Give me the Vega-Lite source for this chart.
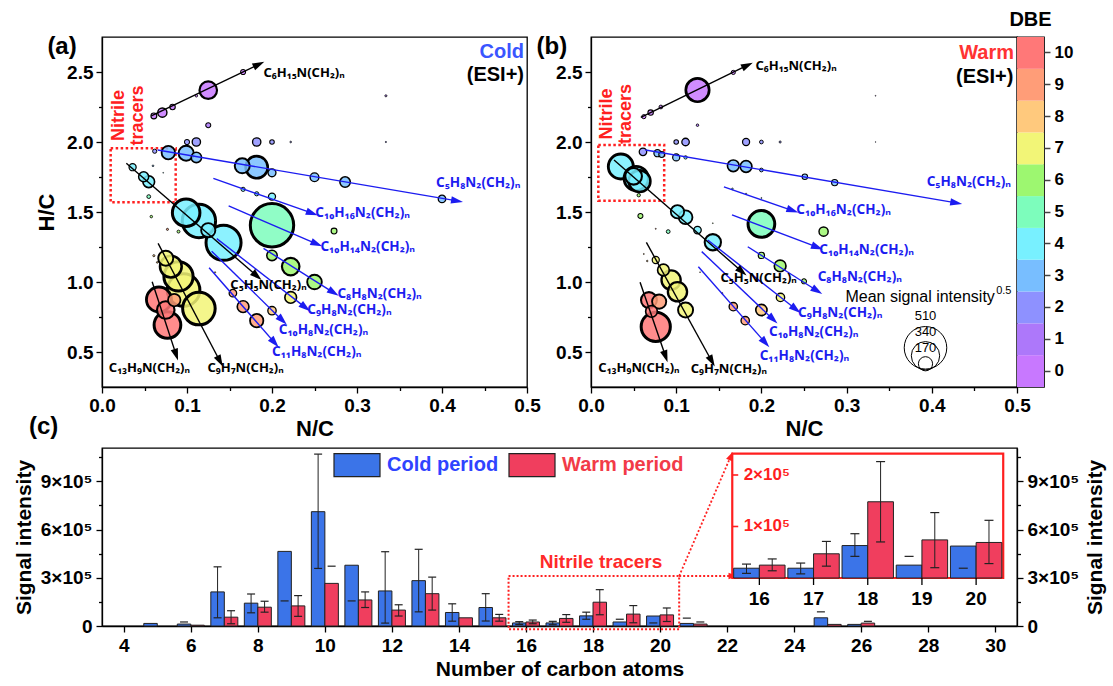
{
  "$schema": "https://vega.github.io/schema/vega-lite/v6.json",
  "background": "white",
  "padding": {"left": 12, "top": 9, "right": 2, "bottom": 2},
  "config": {
    "font": "Liberation Sans",
    "view": {"stroke": "black", "strokeWidth": 1.3},
    "axis": {"labelFont": "Liberation Sans", "titleFont": "Liberation Sans", "labelFontWeight": "bold", "titleFontWeight": "bold", "labelColor": "black", "titleColor": "black", "domainColor": "black", "tickColor": "black", "domainWidth": 1.3, "tickWidth": 1.3, "grid": false},
    "text": {"font": "Liberation Sans"},
    "title": {"font": "Liberation Sans"},
    "legend": {"labelFont": "Liberation Sans"}
  },
  "datasets": {
    "bubbles": [
      {"panel":"a","nc":0.061,"hc":2.186,"dbe":0,"v":70},
      {"panel":"a","nc":0.071,"hc":2.21,"dbe":0,"v":110},
      {"panel":"a","nc":0.083,"hc":2.25,"dbe":0,"v":65},
      {"panel":"a","nc":0.111,"hc":2.33,"dbe":0,"v":30},
      {"panel":"a","nc":0.125,"hc":2.37,"dbe":0,"v":210},
      {"panel":"a","nc":0.166,"hc":2.5,"dbe":0,"v":60},
      {"panel":"a","nc":0.334,"hc":2.33,"dbe":1,"v":25},
      {"panel":"a","nc":0.125,"hc":2.12,"dbe":1,"v":60},
      {"panel":"a","nc":0.334,"hc":2.0,"dbe":2,"v":15},
      {"panel":"a","nc":0.1,"hc":2.0,"dbe":2,"v":60},
      {"panel":"a","nc":0.111,"hc":2.0,"dbe":2,"v":100},
      {"panel":"a","nc":0.182,"hc":2.0,"dbe":2,"v":100},
      {"panel":"a","nc":0.2,"hc":2.0,"dbe":2,"v":55},
      {"panel":"a","nc":0.222,"hc":2.0,"dbe":2,"v":20},
      {"panel":"a","nc":0.062,"hc":1.934,"dbe":2,"v":50},
      {"panel":"a","nc":0.078,"hc":1.924,"dbe":3,"v":160},
      {"panel":"a","nc":0.099,"hc":1.92,"dbe":3,"v":180},
      {"panel":"a","nc":0.111,"hc":1.89,"dbe":3,"v":125},
      {"panel":"a","nc":0.165,"hc":1.83,"dbe":3,"v":180},
      {"panel":"a","nc":0.182,"hc":1.82,"dbe":3,"v":265},
      {"panel":"a","nc":0.2,"hc":1.78,"dbe":3,"v":95},
      {"panel":"a","nc":0.25,"hc":1.748,"dbe":3,"v":105},
      {"panel":"a","nc":0.286,"hc":1.714,"dbe":3,"v":125},
      {"panel":"a","nc":0.4,"hc":1.593,"dbe":3,"v":90},
      {"panel":"a","nc":0.06,"hc":1.83,"dbe":3,"v":20},
      {"panel":"a","nc":0.036,"hc":1.82,"dbe":4,"v":85},
      {"panel":"a","nc":0.049,"hc":1.752,"dbe":4,"v":120},
      {"panel":"a","nc":0.055,"hc":1.716,"dbe":4,"v":140},
      {"panel":"a","nc":0.072,"hc":1.78,"dbe":4,"v":10},
      {"panel":"a","nc":0.099,"hc":1.495,"dbe":4,"v":330},
      {"panel":"a","nc":0.114,"hc":1.436,"dbe":4,"v":400},
      {"panel":"a","nc":0.125,"hc":1.37,"dbe":4,"v":170},
      {"panel":"a","nc":0.143,"hc":1.28,"dbe":4,"v":420},
      {"panel":"a","nc":0.166,"hc":1.662,"dbe":4,"v":50},
      {"panel":"a","nc":0.182,"hc":1.63,"dbe":4,"v":50},
      {"panel":"a","nc":0.2,"hc":1.61,"dbe":4,"v":85},
      {"panel":"a","nc":0.055,"hc":1.61,"dbe":5,"v":45},
      {"panel":"a","nc":0.2,"hc":1.405,"dbe":5,"v":520},
      {"panel":"a","nc":0.058,"hc":1.467,"dbe":6,"v":30},
      {"panel":"a","nc":0.09,"hc":1.36,"dbe":6,"v":35},
      {"panel":"a","nc":0.133,"hc":1.44,"dbe":6,"v":15},
      {"panel":"a","nc":0.273,"hc":1.364,"dbe":6,"v":70},
      {"panel":"a","nc":0.2,"hc":1.19,"dbe":6,"v":125},
      {"panel":"a","nc":0.222,"hc":1.11,"dbe":6,"v":210},
      {"panel":"a","nc":0.25,"hc":1.0,"dbe":6,"v":175},
      {"panel":"a","nc":0.222,"hc":0.89,"dbe":7,"v":140},
      {"panel":"a","nc":0.075,"hc":1.17,"dbe":7,"v":180},
      {"panel":"a","nc":0.081,"hc":1.11,"dbe":7,"v":260},
      {"panel":"a","nc":0.09,"hc":1.04,"dbe":7,"v":350},
      {"panel":"a","nc":0.096,"hc":0.943,"dbe":7,"v":390},
      {"panel":"a","nc":0.114,"hc":0.81,"dbe":7,"v":390},
      {"panel":"a","nc":0.181,"hc":1.09,"dbe":7,"v":12},
      {"panel":"a","nc":0.061,"hc":1.188,"dbe":8,"v":25},
      {"panel":"a","nc":0.065,"hc":1.14,"dbe":8,"v":20},
      {"panel":"a","nc":0.133,"hc":1.069,"dbe":8,"v":15},
      {"panel":"a","nc":0.2,"hc":0.795,"dbe":8,"v":100},
      {"panel":"a","nc":0.077,"hc":1.376,"dbe":9,"v":25},
      {"panel":"a","nc":0.154,"hc":0.92,"dbe":9,"v":90},
      {"panel":"a","nc":0.166,"hc":0.824,"dbe":9,"v":140},
      {"panel":"a","nc":0.182,"hc":0.724,"dbe":9,"v":160},
      {"panel":"a","nc":0.085,"hc":0.871,"dbe":9,"v":150},
      {"panel":"a","nc":0.067,"hc":0.875,"dbe":10,"v":300},
      {"panel":"a","nc":0.075,"hc":0.8,"dbe":10,"v":210},
      {"panel":"a","nc":0.077,"hc":0.693,"dbe":10,"v":320},
      {"panel":"b","nc":0.062,"hc":2.181,"dbe":0,"v":50},
      {"panel":"b","nc":0.07,"hc":2.21,"dbe":0,"v":65},
      {"panel":"b","nc":0.082,"hc":2.25,"dbe":0,"v":45},
      {"panel":"b","nc":0.125,"hc":2.371,"dbe":0,"v":280},
      {"panel":"b","nc":0.167,"hc":2.497,"dbe":0,"v":50},
      {"panel":"b","nc":0.125,"hc":2.12,"dbe":1,"v":30},
      {"panel":"b","nc":0.334,"hc":2.33,"dbe":1,"v":10},
      {"panel":"b","nc":0.334,"hc":2.0,"dbe":2,"v":8},
      {"panel":"b","nc":0.1,"hc":2.0,"dbe":2,"v":55},
      {"panel":"b","nc":0.111,"hc":2.0,"dbe":2,"v":90},
      {"panel":"b","nc":0.182,"hc":2.0,"dbe":2,"v":85},
      {"panel":"b","nc":0.2,"hc":2.0,"dbe":2,"v":45},
      {"panel":"b","nc":0.222,"hc":2.0,"dbe":2,"v":25},
      {"panel":"b","nc":0.061,"hc":1.93,"dbe":2,"v":90},
      {"panel":"b","nc":0.078,"hc":1.92,"dbe":3,"v":85},
      {"panel":"b","nc":0.083,"hc":1.91,"dbe":3,"v":70},
      {"panel":"b","nc":0.1,"hc":1.89,"dbe":3,"v":85},
      {"panel":"b","nc":0.111,"hc":1.89,"dbe":4,"v":40},
      {"panel":"b","nc":0.167,"hc":1.83,"dbe":3,"v":140},
      {"panel":"b","nc":0.182,"hc":1.825,"dbe":3,"v":140},
      {"panel":"b","nc":0.2,"hc":1.8,"dbe":3,"v":45},
      {"panel":"b","nc":0.251,"hc":1.752,"dbe":3,"v":65},
      {"panel":"b","nc":0.286,"hc":1.71,"dbe":3,"v":75},
      {"panel":"b","nc":0.035,"hc":1.825,"dbe":4,"v":300},
      {"panel":"b","nc":0.05,"hc":1.755,"dbe":4,"v":200},
      {"panel":"b","nc":0.053,"hc":1.74,"dbe":4,"v":290},
      {"panel":"b","nc":0.057,"hc":1.72,"dbe":4,"v":260},
      {"panel":"b","nc":0.056,"hc":1.62,"dbe":6,"v":40},
      {"panel":"b","nc":0.058,"hc":1.472,"dbe":6,"v":60},
      {"panel":"b","nc":0.0906,"hc":1.36,"dbe":5,"v":45},
      {"panel":"b","nc":0.076,"hc":1.38,"dbe":9,"v":12},
      {"panel":"b","nc":0.1015,"hc":1.502,"dbe":4,"v":160},
      {"panel":"b","nc":0.111,"hc":1.462,"dbe":4,"v":165},
      {"panel":"b","nc":0.125,"hc":1.371,"dbe":4,"v":90},
      {"panel":"b","nc":0.143,"hc":1.284,"dbe":4,"v":195},
      {"panel":"b","nc":0.143,"hc":1.42,"dbe":6,"v":10},
      {"panel":"b","nc":0.166,"hc":1.665,"dbe":4,"v":20},
      {"panel":"b","nc":0.182,"hc":1.63,"dbe":4,"v":15},
      {"panel":"b","nc":0.2,"hc":1.6,"dbe":4,"v":12},
      {"panel":"b","nc":0.2,"hc":1.415,"dbe":5,"v":320},
      {"panel":"b","nc":0.273,"hc":1.36,"dbe":6,"v":110},
      {"panel":"b","nc":0.2,"hc":1.19,"dbe":6,"v":75},
      {"panel":"b","nc":0.222,"hc":1.115,"dbe":6,"v":140},
      {"panel":"b","nc":0.25,"hc":1.005,"dbe":6,"v":60},
      {"panel":"b","nc":0.2224,"hc":0.89,"dbe":7,"v":100},
      {"panel":"b","nc":0.076,"hc":1.157,"dbe":7,"v":85},
      {"panel":"b","nc":0.085,"hc":1.086,"dbe":7,"v":140},
      {"panel":"b","nc":0.094,"hc":1.014,"dbe":7,"v":230},
      {"panel":"b","nc":0.1015,"hc":0.93,"dbe":7,"v":230},
      {"panel":"b","nc":0.111,"hc":0.8,"dbe":7,"v":180},
      {"panel":"b","nc":0.066,"hc":1.15,"dbe":8,"v":18},
      {"panel":"b","nc":0.062,"hc":1.2,"dbe":8,"v":12},
      {"panel":"b","nc":0.128,"hc":1.07,"dbe":8,"v":10},
      {"panel":"b","nc":0.2,"hc":0.8,"dbe":8,"v":135},
      {"panel":"b","nc":0.154,"hc":0.92,"dbe":9,"v":15},
      {"panel":"b","nc":0.167,"hc":0.824,"dbe":9,"v":100},
      {"panel":"b","nc":0.181,"hc":0.724,"dbe":9,"v":100},
      {"panel":"b","nc":0.08,"hc":0.86,"dbe":9,"v":170},
      {"panel":"b","nc":0.068,"hc":0.871,"dbe":10,"v":190},
      {"panel":"b","nc":0.071,"hc":0.79,"dbe":10,"v":140},
      {"panel":"b","nc":0.076,"hc":0.68,"dbe":10,"v":350}
    ],
    "arrows": [
      {"panel":"a","grp":"N1","f":"C₆H₁₅N(CH₂)ₙ","x1":0.058,"y1":2.186,"x2":0.183,"y2":2.55,"lx":0.19,"ly":2.495},
      {"panel":"a","grp":"N2","f":"C₅H₈N₂(CH₂)ₙ","x1":0.0655,"y1":1.943,"x2":0.416,"y2":1.581,"lx":0.393,"ly":1.705},
      {"panel":"a","grp":"N2","f":"C₁₀H₁₆N₂(CH₂)ₙ","x1":0.131,"y1":1.74,"x2":0.2455,"y2":1.495,"lx":0.251,"ly":1.49},
      {"panel":"a","grp":"N2","f":"C₁₀H₁₄N₂(CH₂)ₙ","x1":0.149,"y1":1.543,"x2":0.251,"y2":1.276,"lx":0.257,"ly":1.248},
      {"panel":"a","grp":"N1","f":"C₅H₅N(CH₂)ₙ","x1":0.0286,"y1":1.848,"x2":0.181,"y2":1.05,"lx":0.151,"ly":0.979},
      {"panel":"a","grp":"N2","f":"C₈H₈N₂(CH₂)ₙ","x1":0.19,"y1":1.24,"x2":0.271,"y2":0.93,"lx":0.277,"ly":0.915},
      {"panel":"a","grp":"N2","f":"C₉H₈N₂(CH₂)ₙ","x1":0.135,"y1":1.31,"x2":0.238,"y2":0.824,"lx":0.2415,"ly":0.8},
      {"panel":"a","grp":"N2","f":"C₁₀H₈N₂(CH₂)ₙ","x1":0.129,"y1":1.22,"x2":0.211,"y2":0.733,"lx":0.208,"ly":0.657},
      {"panel":"a","grp":"N2","f":"C₁₁H₈N₂(CH₂)ₙ","x1":0.126,"y1":1.102,"x2":0.202,"y2":0.574,"lx":0.2,"ly":0.502},
      {"panel":"a","grp":"N1","f":"C₉H₇N(CH₂)ₙ","x1":0.066,"y1":1.276,"x2":0.138,"y2":0.443,"lx":0.124,"ly":0.388},
      {"panel":"a","grp":"N1","f":"C₁₃H₉N(CH₂)ₙ","x1":0.059,"y1":1.002,"x2":0.0867,"y2":0.49,"lx":0.008,"ly":0.388},
      {"panel":"b","grp":"N1","f":"C₆H₁₅N(CH₂)ₙ","x1":0.0585,"y1":2.176,"x2":0.182,"y2":2.543,"lx":0.193,"ly":2.54},
      {"panel":"b","grp":"N2","f":"C₅H₈N₂(CH₂)ₙ","x1":0.064,"y1":1.943,"x2":0.427,"y2":1.567,"lx":0.394,"ly":1.717},
      {"panel":"b","grp":"N2","f":"C₁₀H₁₆N₂(CH₂)ₙ","x1":0.156,"y1":1.68,"x2":0.235,"y2":1.514,"lx":0.241,"ly":1.514},
      {"panel":"b","grp":"N2","f":"C₁₀H₁₄N₂(CH₂)ₙ","x1":0.1655,"y1":1.479,"x2":0.264,"y2":1.252,"lx":0.268,"ly":1.229},
      {"panel":"b","grp":"N1","f":"C₅H₅N(CH₂)ₙ","x1":0.027,"y1":1.871,"x2":0.176,"y2":1.081,"lx":0.152,"ly":1.026},
      {"panel":"b","grp":"N2","f":"C₈H₈N₂(CH₂)ₙ","x1":0.184,"y1":1.252,"x2":0.264,"y2":0.943,"lx":0.266,"ly":1.038},
      {"panel":"b","grp":"N2","f":"C₉H₈N₂(CH₂)ₙ","x1":0.137,"y1":1.3,"x2":0.239,"y2":0.812,"lx":0.243,"ly":0.776},
      {"panel":"b","grp":"N2","f":"C₁₀H₈N₂(CH₂)ₙ","x1":0.13,"y1":1.217,"x2":0.2125,"y2":0.74,"lx":0.209,"ly":0.645},
      {"panel":"b","grp":"N2","f":"C₁₁H₈N₂(CH₂)ₙ","x1":0.126,"y1":1.109,"x2":0.2035,"y2":0.574,"lx":0.198,"ly":0.471},
      {"panel":"b","grp":"N1","f":"C₉H₇N(CH₂)ₙ","x1":0.065,"y1":1.283,"x2":0.141,"y2":0.443,"lx":0.117,"ly":0.376},
      {"panel":"b","grp":"N1","f":"C₁₃H₉N(CH₂)ₙ","x1":0.0576,"y1":0.998,"x2":0.087,"y2":0.478,"lx":0.0086,"ly":0.388}
    ],
    "bars": [
      {"n":5,"period":"Cold period","value":16000},
      {"n":6,"period":"Cold period","value":12000,"hi":25000},
      {"n":7,"period":"Cold period","value":212000,"lo":51000,"hi":368000},
      {"n":8,"period":"Cold period","value":142000,"lo":82000,"hi":199000},
      {"n":9,"period":"Cold period","value":464000,"lo":156000},
      {"n":10,"period":"Cold period","value":711000,"lo":358000,"hi":1069000},
      {"n":11,"period":"Cold period","value":378000,"lo":156000},
      {"n":12,"period":"Cold period","value":218000,"lo":18000,"hi":462000},
      {"n":13,"period":"Cold period","value":282000,"lo":88000,"hi":477000},
      {"n":14,"period":"Cold period","value":84000,"lo":30000,"hi":138000},
      {"n":15,"period":"Cold period","value":115000,"lo":31000,"hi":201000},
      {"n":16,"period":"Cold period","value":19000,"lo":9000,"hi":27000},
      {"n":17,"period":"Cold period","value":19000,"lo":8000,"hi":29000},
      {"n":18,"period":"Cold period","value":63000,"lo":42000,"hi":86000},
      {"n":19,"period":"Cold period","value":25000,"hi":42000},
      {"n":20,"period":"Cold period","value":62000,"lo":19000},
      {"n":21,"period":"Cold period","value":16000,"hi":49000},
      {"n":25,"period":"Cold period","value":51000,"hi":88000},
      {"n":26,"period":"Cold period","value":10000},
      {"n":6,"period":"Warm period","value":5000},
      {"n":7,"period":"Warm period","value":55000,"lo":14000,"hi":95000},
      {"n":8,"period":"Warm period","value":117000,"lo":86000,"hi":154000},
      {"n":9,"period":"Warm period","value":125000,"lo":60000,"hi":189000},
      {"n":10,"period":"Warm period","value":265000,"hi":372000},
      {"n":11,"period":"Warm period","value":162000,"lo":115000,"hi":212000},
      {"n":12,"period":"Warm period","value":99000,"lo":62000,"hi":132000},
      {"n":13,"period":"Warm period","value":201000,"lo":99000,"hi":304000},
      {"n":14,"period":"Warm period","value":51000},
      {"n":15,"period":"Warm period","value":51000,"lo":30000,"hi":72000},
      {"n":16,"period":"Warm period","value":25000,"lo":14000,"hi":37000},
      {"n":17,"period":"Warm period","value":47000,"lo":23000,"hi":71000},
      {"n":18,"period":"Warm period","value":148000,"lo":70000,"hi":226000},
      {"n":19,"period":"Warm period","value":74000,"lo":20000,"hi":127000},
      {"n":20,"period":"Warm period","value":69000,"lo":28000,"hi":112000},
      {"n":21,"period":"Warm period","value":12000,"hi":25000},
      {"n":25,"period":"Warm period","value":10000},
      {"n":26,"period":"Warm period","value":18000,"hi":29000}
    ],
    "connectors": [
      {"x1":20.57,"y1":311000,"x2":22.1,"y2":1051000},
      {"x1":20.57,"y1":311000,"x2":22.14,"y2":311000}
    ],
    "dbe": [{"dbe":0},{"dbe":1},{"dbe":2},{"dbe":3},{"dbe":4},{"dbe":5},{"dbe":6},{"dbe":7},{"dbe":8},{"dbe":9},{"dbe":10}]
  },
  "resolve": {"scale": {"color": "independent"}, "legend": {"color": "independent"}},
  "vconcat": [
    {
      "hconcat": [
        {
          "width": 425, "height": 350,
          "layer": [
            {
              "data": {"values": [{}]},
              "mark": {"type": "rect", "filled": false, "stroke": "#ff2020", "strokeWidth": 2.5, "strokeDash": [2.5, 2.5]},
              "encoding": {
                "x": {"datum": 0.0102, "type": "quantitative", "scale": {"domain": [0, 0.5], "nice": false, "zero": false},
                  "axis": {"title": "N/C", "values": [0,0.05,0.1,0.15,0.2,0.25,0.3,0.35,0.4,0.45,0.5], "labelExpr": "round(datum.value*20) % 2 === 0 ? format(datum.value, '.1f') : ''", "tickSize": {"condition": {"test": "round(datum.value*20) % 2 === 0", "value": 6}, "value": 3.5}, "labelFontSize": 19, "titleFontSize": 22, "labelPadding": 3, "titlePadding": 3, "labelOverlap": false, "labelFlush": false}},
                "x2": {"datum": 0.0867},
                "y": {"datum": 1.955, "type": "quantitative", "scale": {"domain": [0.25, 2.75], "nice": false, "zero": false},
                  "axis": {"title": "H/C", "values": [0.5,0.75,1,1.25,1.5,1.75,2,2.25,2.5], "labelExpr": "round(datum.value*4) % 2 === 0 ? format(datum.value, '.1f') : ''", "tickSize": {"condition": {"test": "round(datum.value*4) % 2 === 0", "value": 6}, "value": 3.5}, "labelFontSize": 19, "titleFontSize": 22, "labelPadding": 3, "titlePadding": 8, "labelOverlap": false, "labelFlush": false}},
                "y2": {"datum": 1.569}
              }
            },
            {
              "data": {"name": "bubbles"},
              "transform": [{"filter": "datum.panel === 'a'"}],
              "mark": {"type": "circle", "stroke": "black", "opacity": 1, "fillOpacity": 0.85},
              "encoding": {
                "x": {"field": "nc", "type": "quantitative"},
                "y": {"field": "hc", "type": "quantitative"},
                "size": {"field": "v", "type": "quantitative", "scale": {"type": "pow", "exponent": 2, "domain": [0, 510], "range": [0, 1810]}, "legend": null},
                "fill": {"field": "dbe", "type": "ordinal", "scale": {"domain": [0,1,2,3,4,5,6,7,8,9,10], "range": ["#C878FF","#AD78FA","#8E91FF","#78BEFF","#78F0FF","#7DFDBC","#9DF770","#F2F577","#FFC97D","#FF9D78","#FF7878"]}, "legend": null},
                "strokeWidth": {"field": "v", "type": "quantitative", "scale": {"domain": [0, 320], "range": [0.6, 3], "clamp": true}, "legend": null},
                "order": {"field": "v", "type": "quantitative", "sort": "descending"}
              }
            },
            {
              "data": {"name": "arrows"},
              "transform": [{"filter": "datum.panel === 'a'"}],
              "mark": {"type": "rule", "strokeWidth": 1.4},
              "encoding": {
                "x": {"field": "x1", "type": "quantitative"}, "y": {"field": "y1", "type": "quantitative"},
                "x2": {"field": "x2"}, "y2": {"field": "y2"},
                "color": {"field": "grp", "type": "nominal", "scale": {"domain": ["N1", "N2"], "range": ["black", "#1c1cf0"]}, "legend": null}
              }
            },
            {
              "data": {"name": "arrows"},
              "transform": [{"filter": "datum.panel === 'a'"}, {"calculate": "atan2((datum.x2-datum.x1)*850, (datum.y2-datum.y1)*140)*180/PI", "as": "rot"}],
              "mark": {"type": "point", "shape": "M0,-1L0.5,0.6L-0.5,0.6Z", "filled": true, "size": 225, "opacity": 1, "strokeWidth": 0},
              "encoding": {
                "x": {"field": "x2", "type": "quantitative"}, "y": {"field": "y2", "type": "quantitative"},
                "angle": {"field": "rot", "type": "quantitative", "scale": null},
                "color": {"field": "grp", "type": "nominal", "legend": null}
              }
            },
            {
              "data": {"name": "arrows"},
              "transform": [{"filter": "datum.panel === 'a' && datum.grp === 'N1'"}],
              "mark": {"type": "text", "align": "left", "baseline": "middle", "font": "Noto Sans", "fontSize": 13, "fontWeight": "bold", "color": "black"},
              "encoding": {"x": {"field": "lx", "type": "quantitative"}, "y": {"field": "ly", "type": "quantitative"}, "text": {"field": "f"}}
            },
            {
              "data": {"name": "arrows"},
              "transform": [{"filter": "datum.panel === 'a' && datum.grp === 'N2'"}],
              "mark": {"type": "text", "align": "left", "baseline": "middle", "font": "Noto Sans", "fontSize": 13.5, "fontWeight": "bold", "color": "#1c1cf0"},
              "encoding": {"x": {"field": "lx", "type": "quantitative"}, "y": {"field": "ly", "type": "quantitative"}, "text": {"field": "f"}}
            },
            {
              "data": {"values": [{}]},
              "mark": {"type": "text", "text": "(a)", "fontSize": 24, "fontWeight": "bold", "align": "center", "baseline": "middle", "color": "black"},
              "encoding": {"x": {"datum": -0.047, "type": "quantitative"}, "y": {"datum": 2.68, "type": "quantitative"}}
            },
            {
              "data": {"values": [{}]},
              "mark": {"type": "text", "text": "(c)", "fontSize": 24, "fontWeight": "bold", "align": "center", "baseline": "middle", "color": "black"},
              "encoding": {"x": {"datum": -0.0687, "type": "quantitative"}, "y": {"datum": -0.036, "type": "quantitative"}}
            },
            {
              "data": {"values": [{}]},
              "mark": {"type": "text", "text": "Cold", "fontSize": 20, "fontWeight": "bold", "align": "right", "baseline": "middle", "color": "#3a55ff"},
              "encoding": {"x": {"datum": 0.4965, "type": "quantitative"}, "y": {"datum": 2.645, "type": "quantitative"}}
            },
            {
              "data": {"values": [{}]},
              "mark": {"type": "text", "text": "(ESI+)", "fontSize": 20, "fontWeight": "bold", "align": "right", "baseline": "middle", "color": "black"},
              "encoding": {"x": {"datum": 0.4965, "type": "quantitative"}, "y": {"datum": 2.479, "type": "quantitative"}}
            },
            {
              "data": {"values": [{}]},
              "mark": {"type": "text", "text": "Nitrile", "angle": 270, "fontSize": 18, "fontWeight": "bold", "align": "center", "baseline": "middle", "color": "#ff2020"},
              "encoding": {"x": {"datum": 0.02, "type": "quantitative"}, "y": {"datum": 2.19, "type": "quantitative"}}
            },
            {
              "data": {"values": [{}]},
              "mark": {"type": "text", "text": "tracers", "angle": 270, "fontSize": 18, "fontWeight": "bold", "align": "center", "baseline": "middle", "color": "#ff2020"},
              "encoding": {"x": {"datum": 0.0425, "type": "quantitative"}, "y": {"datum": 2.19, "type": "quantitative"}}
            }
          ]
        },
        {
          "hconcat": [
            {
              "width": 426, "height": 350,
              "layer": [
                {
                  "data": {"values": [{}]},
                  "mark": {"type": "rect", "filled": false, "stroke": "#ff2020", "strokeWidth": 2.5, "strokeDash": [2.5, 2.5]},
                  "encoding": {
                    "x": {"datum": 0.0086, "type": "quantitative", "scale": {"domain": [0, 0.5], "nice": false, "zero": false},
                      "axis": {"title": "N/C", "values": [0,0.05,0.1,0.15,0.2,0.25,0.3,0.35,0.4,0.45,0.5], "labelExpr": "round(datum.value*20) % 2 === 0 ? format(datum.value, '.1f') : ''", "tickSize": {"condition": {"test": "round(datum.value*20) % 2 === 0", "value": 6}, "value": 3.5}, "labelFontSize": 19, "titleFontSize": 22, "labelPadding": 3, "titlePadding": 3, "labelOverlap": false, "labelFlush": false}},
                    "x2": {"datum": 0.0859},
                    "y": {"datum": 1.979, "type": "quantitative", "scale": {"domain": [0.25, 2.75], "nice": false, "zero": false},
                      "axis": {"title": null, "values": [0.5,0.75,1,1.25,1.5,1.75,2,2.25,2.5], "labelExpr": "round(datum.value*4) % 2 === 0 ? format(datum.value, '.1f') : ''", "tickSize": {"condition": {"test": "round(datum.value*4) % 2 === 0", "value": 6}, "value": 3.5}, "labelFontSize": 19, "labelPadding": 3, "labelOverlap": false, "labelFlush": false}},
                    "y2": {"datum": 1.581}
                  }
                },
                {
                  "data": {"name": "bubbles"},
                  "transform": [{"filter": "datum.panel === 'b'"}],
                  "mark": {"type": "circle", "stroke": "black", "opacity": 1, "fillOpacity": 0.85},
                  "encoding": {
                    "x": {"field": "nc", "type": "quantitative"},
                    "y": {"field": "hc", "type": "quantitative"},
                    "size": {"field": "v", "type": "quantitative", "scale": {"type": "pow", "exponent": 2, "domain": [0, 510], "range": [0, 1810]}, "legend": null},
                    "fill": {"field": "dbe", "type": "ordinal", "scale": {"domain": [0,1,2,3,4,5,6,7,8,9,10], "range": ["#C878FF","#AD78FA","#8E91FF","#78BEFF","#78F0FF","#7DFDBC","#9DF770","#F2F577","#FFC97D","#FF9D78","#FF7878"]}, "legend": null},
                    "strokeWidth": {"field": "v", "type": "quantitative", "scale": {"domain": [0, 320], "range": [0.6, 3], "clamp": true}, "legend": null},
                    "order": {"field": "v", "type": "quantitative", "sort": "descending"}
                  }
                },
                {
                  "data": {"name": "arrows"},
                  "transform": [{"filter": "datum.panel === 'b'"}],
                  "mark": {"type": "rule", "strokeWidth": 1.4},
                  "encoding": {
                    "x": {"field": "x1", "type": "quantitative"}, "y": {"field": "y1", "type": "quantitative"},
                    "x2": {"field": "x2"}, "y2": {"field": "y2"},
                    "color": {"field": "grp", "type": "nominal", "scale": {"domain": ["N1", "N2"], "range": ["black", "#1c1cf0"]}, "legend": null}
                  }
                },
                {
                  "data": {"name": "arrows"},
                  "transform": [{"filter": "datum.panel === 'b'"}, {"calculate": "atan2((datum.x2-datum.x1)*850, (datum.y2-datum.y1)*140)*180/PI", "as": "rot"}],
                  "mark": {"type": "point", "shape": "M0,-1L0.5,0.6L-0.5,0.6Z", "filled": true, "size": 225, "opacity": 1, "strokeWidth": 0},
                  "encoding": {
                    "x": {"field": "x2", "type": "quantitative"}, "y": {"field": "y2", "type": "quantitative"},
                    "angle": {"field": "rot", "type": "quantitative", "scale": null},
                    "color": {"field": "grp", "type": "nominal", "legend": null}
                  }
                },
                {
                  "data": {"name": "arrows"},
                  "transform": [{"filter": "datum.panel === 'b' && datum.grp === 'N1'"}],
                  "mark": {"type": "text", "align": "left", "baseline": "middle", "font": "Noto Sans", "fontSize": 13, "fontWeight": "bold", "color": "black"},
                  "encoding": {"x": {"field": "lx", "type": "quantitative"}, "y": {"field": "ly", "type": "quantitative"}, "text": {"field": "f"}}
                },
                {
                  "data": {"name": "arrows"},
                  "transform": [{"filter": "datum.panel === 'b' && datum.grp === 'N2'"}],
                  "mark": {"type": "text", "align": "left", "baseline": "middle", "font": "Noto Sans", "fontSize": 13.5, "fontWeight": "bold", "color": "#1c1cf0"},
                  "encoding": {"x": {"field": "lx", "type": "quantitative"}, "y": {"field": "ly", "type": "quantitative"}, "text": {"field": "f"}}
                },
                {
                  "data": {"values": [{"v": 510, "cy": 0.53}, {"v": 340, "cy": 0.473}, {"v": 170, "cy": 0.416}]},
                  "mark": {"type": "point", "shape": "circle", "filled": false, "stroke": "black", "strokeWidth": 1, "opacity": 1},
                  "encoding": {"x": {"datum": 0.3926, "type": "quantitative"}, "y": {"field": "cy", "type": "quantitative"}, "size": {"field": "v", "type": "quantitative", "legend": null}}
                },
                {
                  "data": {"values": [{"lab": "510", "ly": 0.757}, {"lab": "340", "ly": 0.645}, {"lab": "170", "ly": 0.529}]},
                  "mark": {"type": "text", "fontSize": 13, "align": "center", "baseline": "middle", "color": "black"},
                  "encoding": {"x": {"datum": 0.3926, "type": "quantitative"}, "y": {"field": "ly", "type": "quantitative"}, "text": {"field": "lab"}}
                },
                {
                  "data": {"values": [{}]},
                  "mark": {"type": "text", "text": "Mean signal intensity", "fontSize": 16, "align": "right", "baseline": "middle", "color": "black"},
                  "encoding": {"x": {"datum": 0.474, "type": "quantitative"}, "y": {"datum": 0.895, "type": "quantitative"}}
                },
                {
                  "data": {"values": [{}]},
                  "mark": {"type": "text", "text": "0.5", "fontSize": 11, "align": "left", "baseline": "middle", "color": "black"},
                  "encoding": {"x": {"datum": 0.4755, "type": "quantitative"}, "y": {"datum": 0.935, "type": "quantitative"}}
                },
                {
                  "data": {"values": [{}]},
                  "mark": {"type": "text", "text": "(b)", "fontSize": 24, "fontWeight": "bold", "align": "center", "baseline": "middle", "color": "black"},
                  "encoding": {"x": {"datum": -0.046, "type": "quantitative"}, "y": {"datum": 2.68, "type": "quantitative"}}
                },
                {
                  "data": {"values": [{}]},
                  "mark": {"type": "text", "text": "Warm", "fontSize": 20, "fontWeight": "bold", "align": "right", "baseline": "middle", "color": "#ff3333"},
                  "encoding": {"x": {"datum": 0.4965, "type": "quantitative"}, "y": {"datum": 2.638, "type": "quantitative"}}
                },
                {
                  "data": {"values": [{}]},
                  "mark": {"type": "text", "text": "(ESI+)", "fontSize": 20, "fontWeight": "bold", "align": "right", "baseline": "middle", "color": "black"},
                  "encoding": {"x": {"datum": 0.4957, "type": "quantitative"}, "y": {"datum": 2.466, "type": "quantitative"}}
                },
                {
                  "data": {"values": [{}]},
                  "mark": {"type": "text", "text": "Nitrile", "angle": 270, "fontSize": 18, "fontWeight": "bold", "align": "center", "baseline": "middle", "color": "#ff2020"},
                  "encoding": {"x": {"datum": 0.0192, "type": "quantitative"}, "y": {"datum": 2.2, "type": "quantitative"}}
                },
                {
                  "data": {"values": [{}]},
                  "mark": {"type": "text", "text": "tracers", "angle": 270, "fontSize": 18, "fontWeight": "bold", "align": "center", "baseline": "middle", "color": "#ff2020"},
                  "encoding": {"x": {"datum": 0.0408, "type": "quantitative"}, "y": {"datum": 2.2, "type": "quantitative"}}
                }
              ]
            },
            {
              "width": 27, "height": 350,
              "title": {"text": "DBE", "fontSize": 20, "fontWeight": "bold", "anchor": "middle", "offset": 7, "color": "black"},
              "data": {"name": "dbe"},
              "mark": {"type": "rect"},
              "encoding": {
                "y": {"field": "dbe", "type": "ordinal", "sort": "descending", "scale": {"paddingInner": 0, "paddingOuter": 0}, "axis": {"orient": "right", "title": null, "domain": false, "tickSize": 6, "tickColor": "#444", "tickWidth": 1.5, "labelFontSize": 17, "labelPadding": 4}},
                "fill": {"field": "dbe", "type": "ordinal", "scale": {"domain": [0,1,2,3,4,5,6,7,8,9,10], "range": ["#C878FF","#AD78FA","#8E91FF","#78BEFF","#78F0FF","#7DFDBC","#9DF770","#F2F577","#FFC97D","#FF9D78","#FF7878"]}, "legend": null}
              }
            }
          ],
          "spacing": 0,
          "bounds": "flush"
        }
      ],
      "spacing": 64,
      "bounds": "flush"
    },
    {
      "width": 915, "height": 178,
      "layer": [
        {
          "layer": [
            {
              "data": {"name": "bars"},
              "transform": [{"filter": "datum.period === 'Cold period'"}],
              "mark": {"type": "bar", "width": 13.5, "xOffset": -6.75, "stroke": "#222", "strokeWidth": 1},
              "encoding": {
                "x": {"field": "n", "type": "quantitative", "scale": {"domain": [3.5, 30.5], "nice": false, "zero": false},
                  "axis": {"title": "Number of carbon atoms", "values": [4,5,6,7,8,9,10,11,12,13,14,15,16,17,18,19,20,21,22,23,24,25,26,27,28,29,30], "labelExpr": "datum.value % 2 === 0 ? datum.label : ''", "tickSize": {"condition": {"test": "datum.value % 2 === 0", "value": 6}, "value": 3.5}, "labelFontSize": 19, "titleFontSize": 21, "labelPadding": 4, "titlePadding": 3, "labelOverlap": false, "labelFlush": false}},
                "y": {"field": "value", "type": "quantitative", "scale": {"domain": [0, 1107000], "nice": false},
                  "axis": {"orient": "left", "title": "Signal intensity", "values": [0,150000,300000,450000,600000,750000,900000,1050000], "labelExpr": "datum.value === 0 ? '0' : (datum.value % 300000 === 0 ? (datum.value/100000) + '×10⁵' : '')", "tickSize": {"condition": {"test": "datum.value % 300000 === 0", "value": 6}, "value": 3.5}, "labelFontSize": 19, "titleFontSize": 21, "labelPadding": 4, "titlePadding": 6, "labelOverlap": false, "labelFlush": false}},
                "color": {"field": "period", "type": "nominal", "scale": {"domain": ["Cold period", "Warm period"], "range": ["#3b74e8", "#f03e5e"]},
                  "legend": {"orient": "none", "legendX": 231, "legendY": -7, "direction": "horizontal", "title": null, "symbolType": "M-1,-0.5H1V0.5H-1Z", "symbolSize": 2116, "symbolStrokeColor": "#222", "symbolStrokeWidth": 1.2, "symbolOpacity": 1, "labelFontSize": 20, "labelFontWeight": "bold", "labelOffset": 6, "columnPadding": 7, "padding": 0, "labelLimit": 300,
                    "encode": {"labels": {"update": {"fill": {"signal": "datum.label === 'Cold period' ? '#2f44ff' : '#f23b48'"}}}}}}
              }
            },
            {
              "data": {"name": "bars"},
              "transform": [{"filter": "datum.period === 'Warm period'"}],
              "mark": {"type": "bar", "width": 13.5, "xOffset": 6.75, "stroke": "#222", "strokeWidth": 1},
              "encoding": {
                "x": {"field": "n", "type": "quantitative"},
                "y": {"field": "value", "type": "quantitative",
                  "axis": {"orient": "right", "title": "Signal intensity", "titleAngle": 270, "titleBaseline": "top", "values": [0,150000,300000,450000,600000,750000,900000,1050000], "labelExpr": "datum.value === 0 ? '0' : (datum.value % 300000 === 0 ? (datum.value/100000) + '×10⁵' : '')", "tickSize": {"condition": {"test": "datum.value % 300000 === 0", "value": 6}, "value": 3.5}, "labelFontSize": 19, "titleFontSize": 21, "labelPadding": 4, "titlePadding": 6, "labelOverlap": false, "labelFlush": false}},
                "color": {"field": "period", "type": "nominal",
                  "legend": {"orient": "none", "legendX": 231, "legendY": -7, "direction": "horizontal", "title": null, "symbolType": "M-1,-0.5H1V0.5H-1Z", "symbolSize": 2116, "symbolStrokeColor": "#222", "symbolStrokeWidth": 1.2, "symbolOpacity": 1, "labelFontSize": 20, "labelFontWeight": "bold", "labelOffset": 6, "columnPadding": 7, "padding": 0, "labelLimit": 300,
                    "encode": {"labels": {"update": {"fill": {"signal": "datum.label === 'Cold period' ? '#2f44ff' : '#f23b48'"}}}}}}
              }
            },
            {
              "data": {"name": "bars"},
              "transform": [{"filter": "datum.period === 'Cold period' && isValid(datum.lo) && isValid(datum.hi)"}],
              "mark": {"type": "rule", "xOffset": -6.75, "color": "#222", "strokeWidth": 1},
              "encoding": {"x": {"field": "n", "type": "quantitative"}, "y": {"field": "lo", "type": "quantitative", "axis": null}, "y2": {"field": "hi"}}
            },
            {
              "data": {"name": "bars"},
              "transform": [{"filter": "datum.period === 'Warm period' && isValid(datum.lo) && isValid(datum.hi)"}],
              "mark": {"type": "rule", "xOffset": 6.75, "color": "#222", "strokeWidth": 1},
              "encoding": {"x": {"field": "n", "type": "quantitative"}, "y": {"field": "lo", "type": "quantitative", "axis": null}, "y2": {"field": "hi"}}
            },
            {
              "data": {"name": "bars"},
              "transform": [{"filter": "datum.period === 'Cold period'"}, {"fold": ["lo", "hi"], "as": ["end", "ev"]}, {"filter": "isValid(datum.ev)"}],
              "mark": {"type": "tick", "orient": "horizontal", "size": 8, "thickness": 1.2, "xOffset": -6.75, "color": "#222", "opacity": 1},
              "encoding": {"x": {"field": "n", "type": "quantitative"}, "y": {"field": "ev", "type": "quantitative", "axis": null}}
            },
            {
              "data": {"name": "bars"},
              "transform": [{"filter": "datum.period === 'Warm period'"}, {"fold": ["lo", "hi"], "as": ["end", "ev"]}, {"filter": "isValid(datum.ev)"}],
              "mark": {"type": "tick", "orient": "horizontal", "size": 8, "thickness": 1.2, "xOffset": 6.75, "color": "#222", "opacity": 1},
              "encoding": {"x": {"field": "n", "type": "quantitative"}, "y": {"field": "ev", "type": "quantitative", "axis": null}}
            },
            {
              "data": {"values": [{}]},
              "mark": {"type": "rect", "filled": false, "stroke": "#ff2020", "strokeWidth": 2, "strokeDash": [2, 2]},
              "encoding": {"x": {"datum": 15.48, "type": "quantitative"}, "x2": {"datum": 20.57}, "y": {"datum": -20500, "type": "quantitative", "axis": null}, "y2": {"datum": 311000}}
            },
            {
              "data": {"name": "connectors"},
              "mark": {"type": "rule", "color": "#ff2020", "strokeWidth": 1.8, "strokeDash": [2, 2]},
              "encoding": {"x": {"field": "x1", "type": "quantitative"}, "y": {"field": "y1", "type": "quantitative", "axis": null}, "x2": {"field": "x2"}, "y2": {"field": "y2"}}
            },
            {
              "data": {"name": "connectors"},
              "transform": [{"calculate": "atan2((datum.x2-datum.x1)*33.9, (datum.y2-datum.y1)/6220)*180/PI", "as": "rot"}],
              "mark": {"type": "point", "shape": "M0,-1L0.6,0.6L-0.6,0.6Z", "filled": true, "size": 120, "opacity": 1, "color": "#ff2020", "strokeWidth": 0},
              "encoding": {"x": {"field": "x2", "type": "quantitative"}, "y": {"field": "y2", "type": "quantitative", "axis": null}, "angle": {"field": "rot", "type": "quantitative", "scale": null}}
            },
            {
              "data": {"values": [{}]},
              "mark": {"type": "text", "text": "Nitrile tracers", "fontSize": 19, "fontWeight": "bold", "align": "center", "baseline": "middle", "color": "#ff2a2a"},
              "encoding": {"x": {"datum": 18.24, "type": "quantitative"}, "y": {"datum": 398000, "type": "quantitative", "axis": null}}
            }
          ],
          "resolve": {"axis": {"y": "independent"}}
        },
        {
          "layer": [
            {
              "data": {"values": [{}]},
              "mark": {"type": "rect", "fill": "white", "stroke": "#ff1f1f", "strokeWidth": 2.2},
              "encoding": {
                "x": {"datum": 15.5, "type": "quantitative", "scale": {"domain": [3.962, 20.662], "nice": false, "zero": false}, "axis": null},
                "x2": {"datum": 20.5},
                "y": {"datum": 0, "type": "quantitative", "scale": {"domain": [-93200, 252400], "nice": false, "zero": false}, "axis": null},
                "y2": {"datum": 241500}
              }
            },
            {
              "data": {"name": "bars"},
              "transform": [{"filter": "datum.period === 'Cold period' && datum.n >= 16 && datum.n <= 20"}],
              "mark": {"type": "bar", "width": 25.7, "xOffset": -12.85, "fill": "#3b74e8", "stroke": "#222", "strokeWidth": 1},
              "encoding": {"x": {"field": "n", "type": "quantitative", "axis": null}, "y": {"field": "value", "type": "quantitative", "axis": null}}
            },
            {
              "data": {"name": "bars"},
              "transform": [{"filter": "datum.period === 'Warm period' && datum.n >= 16 && datum.n <= 20"}],
              "mark": {"type": "bar", "width": 25.7, "xOffset": 12.85, "fill": "#f03e5e", "stroke": "#222", "strokeWidth": 1},
              "encoding": {"x": {"field": "n", "type": "quantitative", "axis": null}, "y": {"field": "value", "type": "quantitative", "axis": null}}
            },
            {
              "data": {"name": "bars"},
              "transform": [{"filter": "datum.period === 'Cold period' && datum.n >= 16 && datum.n <= 20 && isValid(datum.lo) && isValid(datum.hi)"}],
              "mark": {"type": "rule", "xOffset": -12.85, "color": "#222", "strokeWidth": 1},
              "encoding": {"x": {"field": "n", "type": "quantitative", "axis": null}, "y": {"field": "lo", "type": "quantitative", "axis": null}, "y2": {"field": "hi"}}
            },
            {
              "data": {"name": "bars"},
              "transform": [{"filter": "datum.period === 'Warm period' && datum.n >= 16 && datum.n <= 20 && isValid(datum.lo) && isValid(datum.hi)"}],
              "mark": {"type": "rule", "xOffset": 12.85, "color": "#222", "strokeWidth": 1},
              "encoding": {"x": {"field": "n", "type": "quantitative", "axis": null}, "y": {"field": "lo", "type": "quantitative", "axis": null}, "y2": {"field": "hi"}}
            },
            {
              "data": {"name": "bars"},
              "transform": [{"filter": "datum.period === 'Cold period' && datum.n >= 16 && datum.n <= 20"}, {"fold": ["lo", "hi"], "as": ["end", "ev"]}, {"filter": "isValid(datum.ev)"}],
              "mark": {"type": "tick", "orient": "horizontal", "size": 9, "thickness": 1.2, "xOffset": -12.85, "color": "#222", "opacity": 1},
              "encoding": {"x": {"field": "n", "type": "quantitative", "axis": null}, "y": {"field": "ev", "type": "quantitative", "axis": null}}
            },
            {
              "data": {"name": "bars"},
              "transform": [{"filter": "datum.period === 'Warm period' && datum.n >= 16 && datum.n <= 20"}, {"fold": ["lo", "hi"], "as": ["end", "ev"]}, {"filter": "isValid(datum.ev)"}],
              "mark": {"type": "tick", "orient": "horizontal", "size": 9, "thickness": 1.2, "xOffset": 12.85, "color": "#222", "opacity": 1},
              "encoding": {"x": {"field": "n", "type": "quantitative", "axis": null}, "y": {"field": "ev", "type": "quantitative", "axis": null}}
            },
            {
              "data": {"name": "bars"},
              "transform": [{"filter": "datum.period === 'Cold period' && datum.n >= 16 && datum.n <= 20"}],
              "mark": {"type": "rule", "color": "black", "strokeWidth": 1.3},
              "encoding": {"x": {"field": "n", "type": "quantitative", "axis": null}, "y": {"datum": 0, "type": "quantitative", "axis": null}, "y2": {"datum": -13600}}
            },
            {
              "data": {"name": "bars"},
              "transform": [{"filter": "datum.period === 'Cold period' && datum.n >= 16 && datum.n <= 20"}],
              "mark": {"type": "text", "fontSize": 19, "fontWeight": "bold", "align": "center", "baseline": "middle", "color": "black"},
              "encoding": {"x": {"field": "n", "type": "quantitative", "axis": null}, "y": {"datum": -41400, "type": "quantitative", "axis": null}, "text": {"field": "n", "type": "quantitative"}}
            },
            {
              "data": {"values": [{"t": 100000, "lab": "1×10⁵"}, {"t": 200000, "lab": "2×10⁵"}]},
              "mark": {"type": "rule", "color": "#ff1f1f", "strokeWidth": 1.6},
              "encoding": {"x": {"datum": 15.5, "type": "quantitative", "axis": null}, "x2": {"datum": 15.61}, "y": {"field": "t", "type": "quantitative", "axis": null}}
            },
            {
              "data": {"values": [{"t": 100000, "lab": "1×10⁵"}, {"t": 200000, "lab": "2×10⁵"}]},
              "mark": {"type": "text", "fontSize": 17, "fontWeight": "bold", "align": "left", "baseline": "middle", "color": "#ff1f1f"},
              "encoding": {"x": {"datum": 15.71, "type": "quantitative", "axis": null}, "y": {"field": "t", "type": "quantitative", "axis": null}, "text": {"field": "lab"}}
            }
          ]
        }
      ],
      "resolve": {"scale": {"x": "independent", "y": "independent"}}
    }
  ],
  "spacing": 0
}
